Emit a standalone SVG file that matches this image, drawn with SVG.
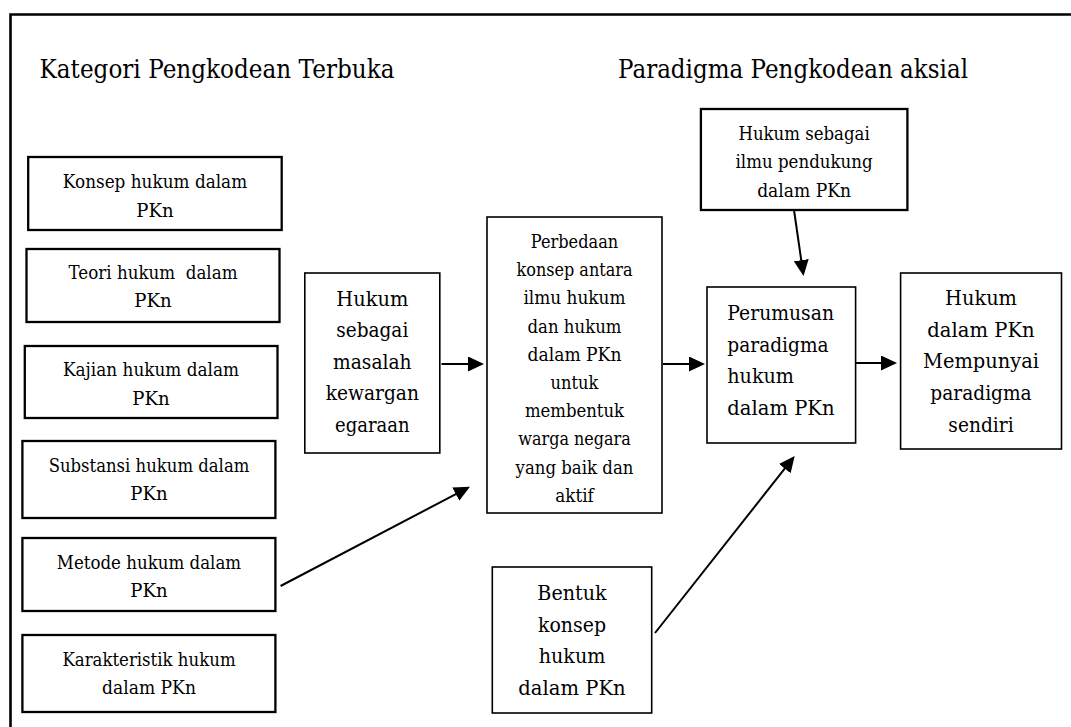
<svg xmlns="http://www.w3.org/2000/svg" width="1071" height="727" viewBox="0 0 1071 727">
<style>
text{fill:#000;font-family:"DejaVu Serif","Liberation Serif",serif}
.t{font-size:26px}
.s{font-size:19px;text-anchor:middle}
.m{font-size:21px;text-anchor:middle}
.ml{font-size:21px}
.bx{fill:#fff;stroke:#000;stroke-width:1.6}
.bk{fill:#fff;stroke:#000;stroke-width:2.3}
.ar{stroke:#000;stroke-width:2;fill:none;marker-end:url(#ah)}
</style>
<defs>
<marker id="ah" markerUnits="userSpaceOnUse" markerWidth="16" markerHeight="15" viewBox="0 0 16 15" refX="13" refY="7.5" orient="auto">
<path d="M0,0 L16,7.5 L0,15 z" fill="#000"/>
</marker>
</defs>
<rect width="1071" height="727" fill="#fff"/>
<path d="M10.5,727 V14.5 H1071" fill="none" stroke="#000" stroke-width="2.6"/>
<text class="t" x="39.5" y="78" textLength="355" lengthAdjust="spacingAndGlyphs">Kategori Pengkodean Terbuka</text>
<text class="t" x="618" y="78" textLength="350" lengthAdjust="spacingAndGlyphs">Paradigma Pengkodean aksial</text>

<g id="n-konsep"><rect class="bk" x="28.2" y="157" width="253.5" height="73"/>
<text class="s" x="155" y="188.3" textLength="184.3" lengthAdjust="spacingAndGlyphs">Konsep hukum dalam</text><text class="s" x="155" y="216.7" textLength="37.3" lengthAdjust="spacingAndGlyphs">PKn</text></g>
<g id="n-teori"><rect class="bk" x="26.5" y="249" width="253" height="73"/>
<text class="s" x="153" y="279.3" xml:space="preserve" textLength="169" lengthAdjust="spacingAndGlyphs">Teori hukum  dalam</text><text class="s" x="153" y="307.3" textLength="37.3" lengthAdjust="spacingAndGlyphs">PKn</text></g>
<g id="n-kajian"><rect class="bk" x="24.8" y="346" width="252.7" height="72"/>
<text class="s" x="151" y="376" textLength="176.1" lengthAdjust="spacingAndGlyphs">Kajian hukum dalam</text><text class="s" x="151" y="405" textLength="37.3" lengthAdjust="spacingAndGlyphs">PKn</text></g>
<g id="n-substansi"><rect class="bk" x="22.4" y="441" width="253" height="77"/>
<text class="s" x="149" y="472" textLength="200.7" lengthAdjust="spacingAndGlyphs">Substansi hukum dalam</text><text class="s" x="149" y="500" textLength="37.3" lengthAdjust="spacingAndGlyphs">PKn</text></g>
<g id="n-metode"><rect class="bk" x="22.4" y="538" width="253" height="73"/>
<text class="s" x="149" y="569" textLength="184.3" lengthAdjust="spacingAndGlyphs">Metode hukum dalam</text><text class="s" x="149" y="597" textLength="37.3" lengthAdjust="spacingAndGlyphs">PKn</text></g>
<g id="n-karakteristik"><rect class="bk" x="22.4" y="635" width="253" height="77"/>
<text class="s" x="149" y="666" textLength="173.2" lengthAdjust="spacingAndGlyphs">Karakteristik hukum</text><text class="s" x="149" y="694" textLength="93.9" lengthAdjust="spacingAndGlyphs">dalam PKn</text></g>

<g id="n-masalah"><rect class="bx" x="304.8" y="273" width="135" height="180"/>
<text class="m" x="372.3" y="306" textLength="72" lengthAdjust="spacingAndGlyphs">Hukum</text>
<text class="m" x="372.3" y="337.4" textLength="72" lengthAdjust="spacingAndGlyphs">sebagai</text>
<text class="m" x="372.3" y="368.8" textLength="78.6" lengthAdjust="spacingAndGlyphs">masalah</text>
<text class="m" x="372.3" y="400.2" textLength="93.3" lengthAdjust="spacingAndGlyphs">kewargan</text>
<text class="m" x="372.3" y="431.6" textLength="74.6" lengthAdjust="spacingAndGlyphs">egaraan</text></g>

<g id="n-perbedaan"><rect class="bx" x="487" y="217" width="175" height="296"/>
<text class="s" x="574.5" y="248" textLength="87.5" lengthAdjust="spacingAndGlyphs">Perbedaan</text>
<text class="s" x="574.5" y="276.2" textLength="116" lengthAdjust="spacingAndGlyphs">konsep antara</text>
<text class="s" x="574.5" y="304.4" textLength="102.1" lengthAdjust="spacingAndGlyphs">ilmu hukum</text>
<text class="s" x="574.5" y="332.6" textLength="93.9" lengthAdjust="spacingAndGlyphs">dan hukum</text>
<text class="s" x="574.5" y="360.8" textLength="93.9" lengthAdjust="spacingAndGlyphs">dalam PKn</text>
<text class="s" x="574.5" y="389" textLength="47.8" lengthAdjust="spacingAndGlyphs">untuk</text>
<text class="s" x="574.5" y="417.2" textLength="99.2" lengthAdjust="spacingAndGlyphs">membentuk</text>
<text class="s" x="574.5" y="445.4" textLength="112.5" lengthAdjust="spacingAndGlyphs">warga negara</text>
<text class="s" x="574.5" y="473.6" textLength="117.8" lengthAdjust="spacingAndGlyphs">yang baik dan</text>
<text class="s" x="574.5" y="501.8" textLength="38.5" lengthAdjust="spacingAndGlyphs">aktif</text></g>

<g id="n-ilmu"><rect class="bk" x="700.9" y="109" width="206.5" height="101"/>
<text class="s" x="804.1" y="140" textLength="131.2" lengthAdjust="spacingAndGlyphs">Hukum sebagai</text>
<text class="s" x="804.1" y="168.3" textLength="137.1" lengthAdjust="spacingAndGlyphs">ilmu pendukung</text>
<text class="s" x="804.1" y="196.6" textLength="93.9" lengthAdjust="spacingAndGlyphs">dalam PKn</text></g>

<g id="n-perumusan"><rect class="bx" x="707" y="287" width="148.6" height="156"/>
<text class="ml" x="727.3" y="320" textLength="106.7" lengthAdjust="spacingAndGlyphs">Perumusan</text>
<text class="ml" x="727.3" y="351.7" textLength="101.3" lengthAdjust="spacingAndGlyphs">paradigma</text>
<text class="ml" x="727.3" y="383.4" textLength="66.7" lengthAdjust="spacingAndGlyphs">hukum</text>
<text class="ml" x="727.3" y="415" textLength="107.3" lengthAdjust="spacingAndGlyphs">dalam PKn</text></g>

<g id="n-hasil"><rect class="bx" x="900.6" y="273" width="160.9" height="176"/>
<text class="m" x="981" y="305" textLength="72" lengthAdjust="spacingAndGlyphs">Hukum</text>
<text class="m" x="981" y="336.7" textLength="107.3" lengthAdjust="spacingAndGlyphs">dalam PKn</text>
<text class="m" x="981" y="368.4" textLength="116" lengthAdjust="spacingAndGlyphs">Mempunyai</text>
<text class="m" x="981" y="400.1" textLength="101.3" lengthAdjust="spacingAndGlyphs">paradigma</text>
<text class="m" x="981" y="431.8" textLength="65.3" lengthAdjust="spacingAndGlyphs">sendiri</text></g>

<g id="n-bentuk"><rect class="bx" x="492.3" y="567" width="159.4" height="146"/>
<text class="m" x="572" y="600" textLength="69.3" lengthAdjust="spacingAndGlyphs">Bentuk</text>
<text class="m" x="572" y="631.7" textLength="68" lengthAdjust="spacingAndGlyphs">konsep</text>
<text class="m" x="572" y="663.3" textLength="66.7" lengthAdjust="spacingAndGlyphs">hukum</text>
<text class="m" x="572" y="695" textLength="107.3" lengthAdjust="spacingAndGlyphs">dalam PKn</text></g>

<g id="connectors">
<line class="ar" x1="441.5" y1="364" x2="481" y2="364"/>
<line class="ar" x1="663" y1="364" x2="702" y2="364"/>
<line class="ar" x1="856" y1="363" x2="894" y2="363"/>
<line class="ar" x1="794" y1="210" x2="803.1" y2="273"/>
<line class="ar" x1="280.6" y1="586" x2="467.3" y2="488.1"/>
<line class="ar" x1="655" y1="633" x2="792.8" y2="458.4"/>
</g>
</svg>
